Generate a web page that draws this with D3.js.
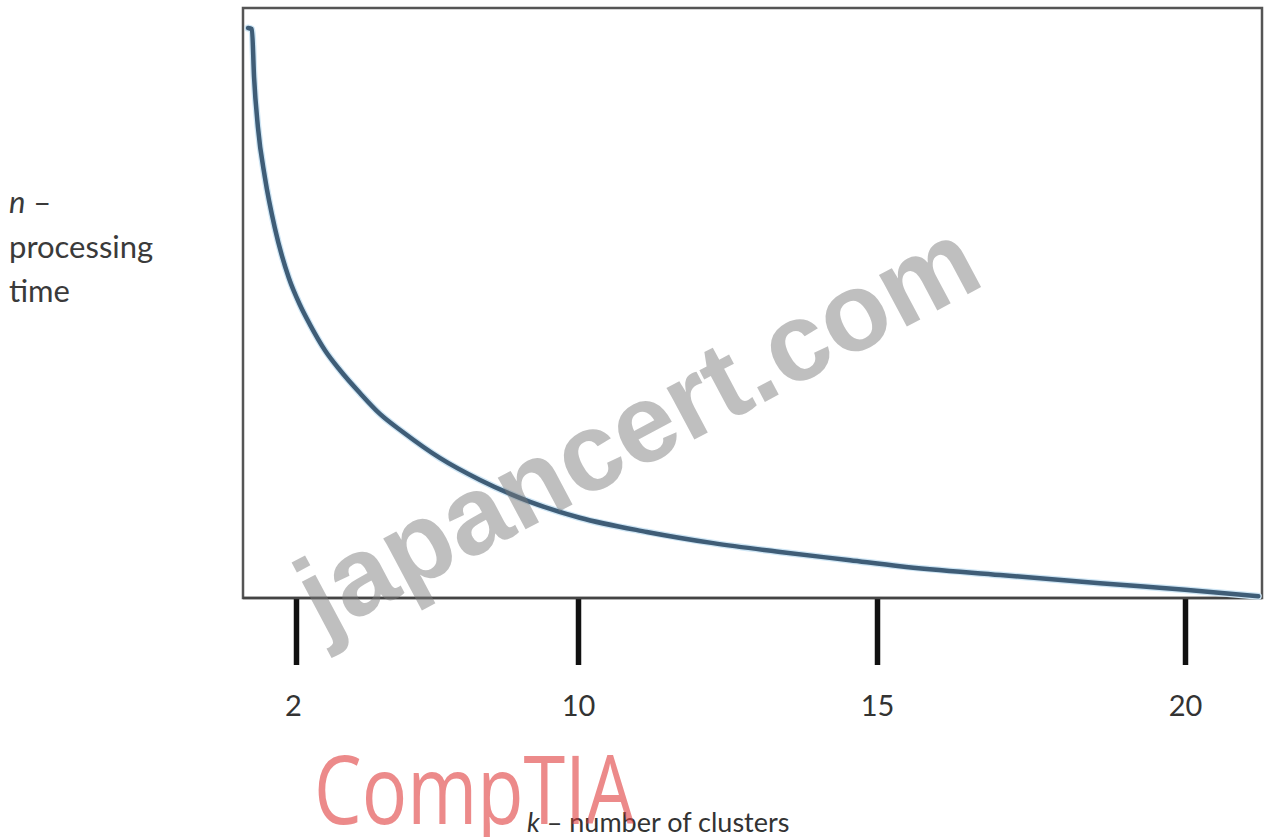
<!DOCTYPE html>
<html>
<head>
<meta charset="utf-8">
<script src="https://cdn.jsdelivr.net/npm/d3@7"></script>
<style>
  html, body { margin: 0; padding: 0; background: #fff; }
  svg { display: block; }
</style>
</head>
<body>
<svg id="chart" width="1264" height="837"></svg>
<script>
// ---- data ----
const clusters = [0.64, 0.75, 0.81, 0.92, 1.12, 1.40, 1.80, 2.11, 2.40, 2.82, 3.25, 3.82, 4.38, 5.04, 6.09, 7.22, 8.64, 10.03, 11.15, 12.26, 13.38, 14.55, 15.37, 17.00, 18.62, 20.00, 21.19];
const processingTime = [96.6, 96.4, 88.3, 79.8, 71.2, 62.7, 54.2, 49.7, 46.3, 42.0, 38.6, 34.7, 31.2, 28.1, 23.7, 20.0, 16.3, 13.6, 11.2, 9.3, 7.8, 6.4, 5.4, 3.9, 2.5, 1.4, 0.3];
const tickValues = [2, 10, 15, 20];
const tickLabels = ["2", "10", "15", "20"];
const yLabelLines = ["n \u2013", "processing", "time"];
const xLabelVar = "k";
const xLabelRest = " \u2013 number of clusters";
const watermark = "japancert.com";
const logoText = "CompTIA";

const svg = d3.select("#chart");
const box = { left: 243, top: 8, right: 1262, bottom: 598 };

// piecewise linear x scale (uneven tick spacing in the original)
const x = d3.scaleLinear().domain([2, 10, 15, 20]).range([296, 578, 877, 1185]);
const y = d3.scaleLinear().domain([0, 100]).range([box.bottom, box.top]);

// frame
svg.append("rect")
  .attr("x", box.left).attr("y", box.top)
  .attr("width", box.right - box.left).attr("height", box.bottom - box.top)
  .attr("fill", "#fff").attr("stroke", "#555").attr("stroke-width", 2.5);

// axis ticks
const axis = d3.axisBottom(x)
  .tickValues(tickValues)
  .tickFormat((d, i) => tickLabels[i])
  .tickSize(67).tickPadding(30);
const gx = svg.append("g").attr("transform", `translate(0,${box.bottom})`).call(axis);
gx.select(".domain").remove();
gx.selectAll(".tick line").attr("stroke", "#111").attr("stroke-width", 5.5);
gx.selectAll(".tick text")
  .attr("fill", "#333")
  .style("font-family", "Lato, 'Open Sans', sans-serif")
  .style("font-size", "29px");
gx.selectAll(".tick").filter(d => d === 2).select("text").attr("dx", -3);

// bottom border over ticks
svg.append("line")
  .attr("x1", box.left).attr("x2", box.right)
  .attr("y1", box.bottom).attr("y2", box.bottom)
  .attr("stroke", "#444").attr("stroke-width", 2.5);

// curve
const pts = clusters.map((k, i) => [k, processingTime[i]]);
const line = d3.line().x(d => x(d[0])).y(d => y(d[1])).curve(d3.curveMonotoneX);
svg.append("path")
  .datum(pts)
  .attr("d", line)
  .attr("fill", "none")
  .attr("stroke", "#cfe6f5").attr("stroke-width", 7).attr("stroke-linecap", "round");
svg.append("path")
  .datum(pts)
  .attr("d", line)
  .attr("fill", "none")
  .attr("stroke", "#3f5d77").attr("stroke-width", 4.5).attr("stroke-linecap", "round");

// y label
const yl = svg.append("text")
  .attr("fill", "#3a3a3a")
  .style("font-family", "Lato, 'Open Sans', sans-serif")
  .style("font-size", "31px");
[213, 258, 302].forEach((by, i) => {
  const t = yl.append("tspan").attr("x", 9).attr("y", by);
  if (i === 0) {
    t.append("tspan").style("font-style", "italic").text("n");
    t.append("tspan").text(" \u2013");
  } else {
    t.text(yLabelLines[i]);
  }
});

// x label
const xl = svg.append("text")
  .attr("x", 527).attr("y", 832)
  .attr("fill", "#333")
  .style("font-family", "Lato, 'Open Sans', sans-serif")
  .style("font-size", "27px");
xl.append("tspan").style("font-style", "italic").text(xLabelVar);
xl.append("tspan").text(xLabelRest);

// watermark
svg.append("text")
  .attr("transform", "translate(637,427) rotate(-28)")
  .attr("text-anchor", "middle")
  .attr("dominant-baseline", "central")
  .attr("fill", "#7a7a7a").attr("fill-opacity", 0.48)
  .style("font-family", "'Liberation Sans', Arial, sans-serif")
  .style("font-weight", "bold")
  .style("font-size", "111px")
  .text(watermark);

// logo
svg.append("text")
  .attr("x", 314).attr("y", 824)
  .attr("textLength", 320).attr("lengthAdjust", "spacingAndGlyphs")
  .attr("fill", "#e03c3c").attr("fill-opacity", 0.6)
  .style("font-family", "'Open Sans', 'Noto Sans', sans-serif")
  .style("font-weight", 400)
  .style("font-size", "96px")
  .text(logoText);
</script>
</body>
</html>
